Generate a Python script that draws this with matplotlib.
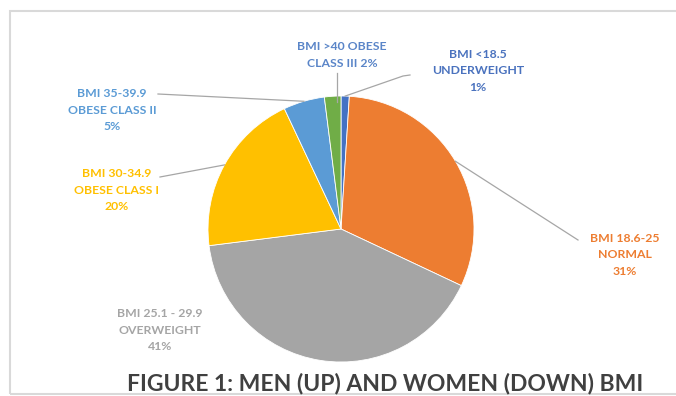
import matplotlib
matplotlib.use("Agg")
import matplotlib.pyplot as plt
import numpy as np
from matplotlib.patches import Rectangle

# data (clockwise from 12 o'clock)
categories = ["BMI <18.5\nUNDERWEIGHT", "BMI 18.6-25\nNORMAL", "BMI 25.1 - 29.9\nOVERWEIGHT",
              "BMI 30-34.9\nOBESE CLASS I", "BMI 35-39.9\nOBESE CLASS II", "BMI >40 OBESE\nCLASS III"]
values = [1, 31, 41, 20, 5, 2]
pct_labels = ["1%", "31%", "41%", "20%", "5%", "2%"]
colors = ["#4472C4", "#ED7D31", "#A5A5A5", "#FFC000", "#5B9BD5", "#70AD47"]
label_colors = ["#4A72BE", "#ED7D31", "#A5A5A5", "#FFC000", "#5B9BD5", "#5A85C8"]

W, H = 676, 396
fig = plt.figure(figsize=(W / 100, H / 100), dpi=100)
ax = fig.add_axes([0, 0, 1, 1])

cx, cy, r = 341, H - 229, 133
wedges, _ = ax.pie(values, colors=colors, startangle=90, counterclock=False,
                   center=(cx, cy), radius=r, frame=True,
                   wedgeprops=dict(edgecolor="white", linewidth=0.6))
ax.set_xlim(0, W)
ax.set_ylim(0, H)
ax.set_aspect("auto")
ax.axis("off")

# frame of the chart area
ax.add_patch(Rectangle((10, 2), W + 60, H - 13, fill=False, edgecolor="#D9D9D9",
                       lw=1.5, clip_on=False))

# label positions (pixel coords, y from top) and leader line elbows
label_pos = [(478, 71), (625, 255), (160, 330), (117, 190), (112, 110), (342, 55)]
elbows = [[(403, 76), (410, 75)], [(578, 240)], None, [(160, 177)], [(158, 94)], [(337, 73)]]
multi = [True, True, True, True, True, False]

cum = np.cumsum([0] + values)
for i, cat in enumerate(categories):
    if multi[i]:
        txt = cat + "\n" + pct_labels[i]
    else:
        txt = cat + " " + pct_labels[i]
    lx, ly = label_pos[i]
    ax.text(lx, H - ly, txt, ha="center", va="center", color=label_colors[i],
            fontsize=8.8, fontweight="bold", family="Lato", linespacing=1.6)
    if elbows[i] is None:
        continue
    mid = (cum[i] + cum[i + 1]) / 2 / cum[-1] * 2 * np.pi
    ax0 = cx + r * np.sin(mid)
    ay0 = cy + r * np.cos(mid)
    pts = [(ax0, ay0)] + [(x, H - y) for x, y in elbows[i]]
    if i == 5:
        pts = [(elbows[i][0][0], cy + r - 6), (elbows[i][0][0], H - elbows[i][0][1])]
    xs, ys = zip(*pts)
    ax.plot(xs, ys, color="#A6A6A6", lw=0.9)

ax.text(385, H - 383, "FIGURE 1: MEN (UP) AND WOMEN (DOWN) BMI", ha="center", va="center",
        color="#404040", fontsize=16.5, family="Lato", fontweight="bold")

fig.savefig("out.png", dpi=100)
